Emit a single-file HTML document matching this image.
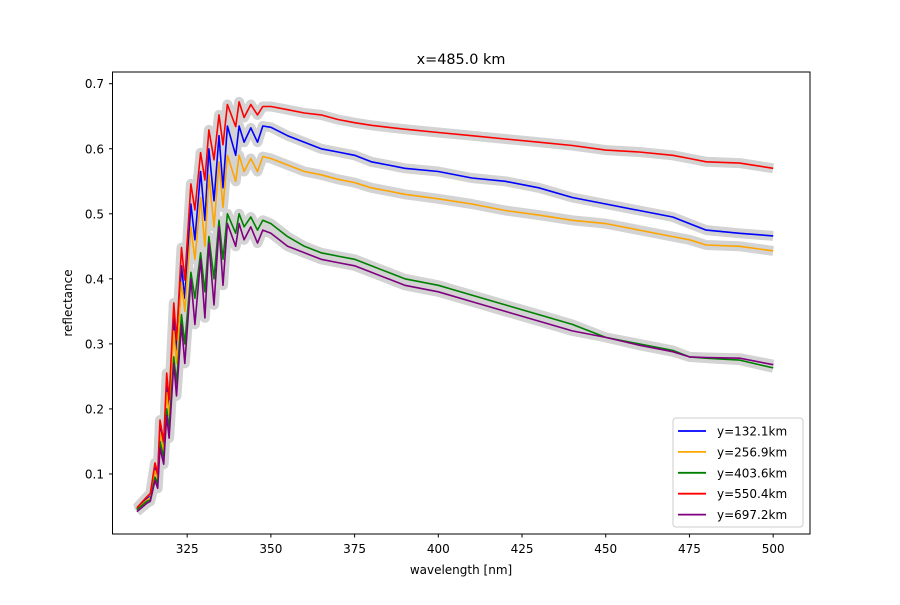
<!DOCTYPE html>
<html><head><meta charset="utf-8"><style>
body{margin:0;background:#fff}
svg text{font-family:"DejaVu Sans","Liberation Sans",sans-serif;fill:#000}
</style></head><body>
<svg id="chart" width="900" height="600" xmlns="http://www.w3.org/2000/svg">
<rect width="900" height="600" fill="#fff"/>
<text x="461" y="64" font-size="14.4" text-anchor="middle">x=485.0 km</text>
<g id="bands"></g>
<g id="lines"></g>
<rect x="112.5" y="72" width="697.5" height="462" fill="none" stroke="#000" stroke-width="1"/>
<g id="axes"></g>
<text x="461" y="574" font-size="12" text-anchor="middle">wavelength [nm]</text>
<text x="72" y="303" font-size="12" text-anchor="middle" transform="rotate(-90 72 303)">reflectance</text>
<g id="legend"></g>
</svg>
<script>
const wavelengths=[310,313,314,315.4,316.2,316.9,318,318.9,319.6,321,321.8,323.3,324.3,326.1,327.3,329,330.3,331.5,333,334.5,335.7,337,339.5,340.5,342,344,346,347.6,350,355,360,365,370,375,380,385,390,400,410,420,430,440,450,460,470,475,480,490,500];
const seriesLabels=["y=132.1km","y=256.9km","y=403.6km","y=550.4km","y=697.2km"];
const seriesColors=["blue","orange","green","red","purple"];
const blueVals=[.046,.062,.066,.11,.095,.175,.142,.24,.2,.34,.29,.42,.37,.515,.46,.565,.49,.6,.52,.62,.54,.635,.59,.635,.61,.632,.61,.635,.633,.62,.61,.6,.595,.59,.58,.575,.57,.565,.555,.55,.54,.525,.515,.505,.495,.485,.475,.47,.466];
const orangeVals=[.045,.06,.064,.105,.09,.165,.135,.225,.19,.32,.27,.395,.35,.48,.43,.525,.45,.56,.48,.58,.51,.59,.55,.59,.565,.585,.565,.588,.585,.575,.565,.56,.553,.548,.54,.535,.53,.523,.515,.505,.498,.49,.485,.475,.465,.46,.452,.45,.443];
const greenVals=[.045,.058,.06,.095,.085,.15,.125,.2,.17,.28,.24,.345,.3,.41,.37,.44,.38,.465,.4,.49,.43,.5,.47,.5,.48,.495,.475,.49,.485,.465,.45,.44,.435,.43,.42,.41,.4,.39,.375,.36,.345,.33,.31,.3,.29,.28,.278,.275,.263];
const redVals=[.048,.065,.07,.117,.10,.183,.15,.255,.214,.363,.306,.448,.398,.546,.506,.594,.552,.629,.583,.652,.606,.668,.634,.672,.648,.668,.652,.665,.665,.66,.655,.652,.645,.64,.636,.633,.63,.625,.62,.615,.61,.605,.598,.595,.59,.585,.58,.578,.57];
const purpleVals=[.042,.055,.058,.09,.078,.14,.115,.19,.155,.27,.22,.33,.27,.4,.33,.43,.34,.455,.36,.48,.39,.485,.45,.485,.46,.48,.455,.475,.47,.45,.44,.43,.425,.42,.41,.4,.39,.38,.365,.35,.335,.32,.31,.298,.288,.28,.279,.278,.268];
const xTicks=[325,350,375,400,425,450,475,500];
const yTicks=[0.1,0.2,0.3,0.4,0.5,0.6,0.7];

const NS="http://www.w3.org/2000/svg";
const X0=302.7,X1=511,Y0=0.0077,Y1=0.718;
const xs=v=>112.5+(v-X0)/(X1-X0)*697.5;
const ys=v=>534-(v-Y0)/(Y1-Y0)*462;
function mk(t,a,p){const e=document.createElementNS(NS,t);for(const k in a)e.setAttribute(k,a[k]);p.appendChild(e);return e;}
const all=[blueVals,orangeVals,greenVals,redVals,purpleVals];
const bands=document.getElementById('bands'),lines=document.getElementById('lines');
all.forEach((vals,i)=>{
  const d=vals.map((v,j)=>(j?'L':'M')+xs(wavelengths[j]).toFixed(1)+' '+ys(v).toFixed(1)).join(' ');
  const b=mk('path',{d:d,fill:'none',stroke:'#d3d3d3','stroke-width':10,'stroke-linejoin':'round'},bands);
  
  
  const l=mk('path',{d:d,fill:'none',stroke:seriesColors[i],'stroke-width':1.6,'stroke-linejoin':'round'},lines);
  
  
});
const axes=document.getElementById('axes');
xTicks.forEach(t=>{
  const x=xs(t);
  const tk=mk('line',{x1:x,x2:x,y1:534,y2:537.5,stroke:'#000'},axes);
  
  
  const tx=mk('text',{x:x,y:553,'font-size':12,'text-anchor':'middle'},axes);
  tx.textContent=t;
  
  
});
yTicks.forEach(t=>{
  const y=ys(t);
  const tk=mk('line',{x1:109,x2:112.5,y1:y,y2:y,stroke:'#000'},axes);
  
  
  const tx=mk('text',{x:104,y:y+4.5,'font-size':12,'text-anchor':'end'},axes);
  tx.textContent=t.toFixed(1);
  
  
});
const lg=document.getElementById('legend');
mk('rect',{x:673,y:418,width:130,height:109,rx:3,fill:'#fff','fill-opacity':0.8,stroke:'#ccc'},lg);
seriesLabels.forEach((s,i)=>{
  const y=431+i*20.9;
  const l=mk('line',{x1:678,x2:706,y1:y,y2:y,stroke:seriesColors[i],'stroke-width':1.8},lg);
  
  
  const t=mk('text',{x:717,y:y+4.5,'font-size':12},lg);
  t.textContent=s;
  
  
});
</script>
</body></html>
